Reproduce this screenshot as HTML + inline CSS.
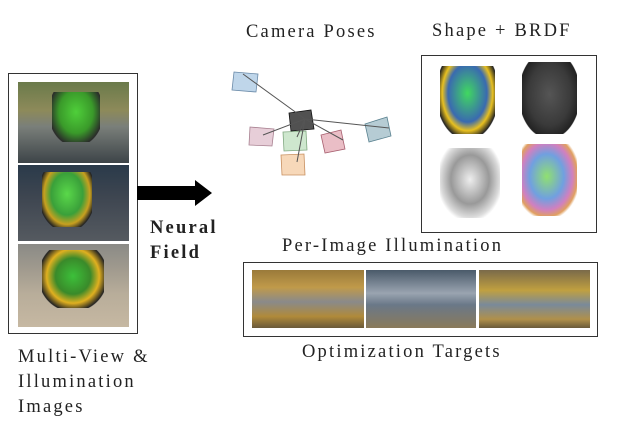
<!DOCTYPE html>
<html><head><style>
body{margin:0;width:618px;height:427px;background:#fff;position:relative;overflow:hidden;font-family:"Liberation Serif",serif;}
.t{position:absolute;font-size:18.5px;letter-spacing:2.2px;color:#222;white-space:nowrap;}
.box{position:absolute;border:1.5px solid #333;box-sizing:border-box;}
.ph{position:absolute;}
</style></head><body>
<div class="box" style="left:8px;top:73px;width:130px;height:261px"></div>
<div class="ph" style="left:18px;top:82px;width:111px;height:81px;background:linear-gradient(180deg,#6a7a4a 0%,#8d8a5a 35%,#7a7f7a 55%,#3d4448 100%)"></div>
<div class="ph" style="left:52px;top:92px;width:48px;height:50px;background:radial-gradient(ellipse at 50% 40%,#4fcf3a 0%,#3a9a2a 50%,#2a2a2a 80%,transparent 82%)"></div>
<div class="ph" style="left:18px;top:165px;width:111px;height:76px;background:linear-gradient(180deg,#2a3a4a 0%,#3d4550 40%,#555a60 100%)"></div>
<div class="ph" style="left:42px;top:172px;width:50px;height:55px;background:radial-gradient(ellipse at 50% 40%,#5ad84a 0%,#3aa03a 45%,#c8a020 65%,#222 80%,transparent 82%)"></div>
<div class="ph" style="left:18px;top:244px;width:111px;height:83px;background:linear-gradient(180deg,#8a8a86 0%,#a09a8e 30%,#b8ad9a 60%,#c6b8a2 100%)"></div>
<div class="ph" style="left:42px;top:250px;width:62px;height:58px;background:radial-gradient(ellipse at 50% 45%,#3cc03a 0%,#3a8a2a 40%,#e0b020 60%,#222 78%,transparent 80%)"></div>

<svg style="position:absolute;left:0;top:0" width="618" height="427">
<polygon points="137,186 195,186 195,180 212,193 195,206 195,200 137,200" fill="#000"/>
<g stroke-width="0.8" fill-opacity="0.55">
<polygon points="234,72 258,74 256,92 232,90" fill="#8ab4d8" stroke="#6a8aa8"/>
<polygon points="250,127 274,129 272,146 249,145" fill="#d4a6b8" stroke="#a88090"/>
<polygon points="283,132 306,131 307,150 284,151" fill="#a6d4a6" stroke="#80a880"/>
<polygon points="281,155 304,154 305,175 282,175" fill="#f0b880" stroke="#c89060"/>
<polygon points="321,135 341,130 345,149 325,153" fill="#d88898" stroke="#a86070"/>
<polygon points="365,124 387,117 391,136 369,142" fill="#7aa2b0" stroke="#5a8290"/>
<polygon points="289,113 311,110 314,129 291,131" fill="#333" stroke="#111" fill-opacity="0.85"/>
</g>
<g stroke="#555" stroke-width="1" fill="none">
<line x1="305" y1="119" x2="243" y2="74"/>
<line x1="305" y1="119" x2="263" y2="135"/>
<line x1="305" y1="119" x2="297" y2="137"/>
<line x1="305" y1="119" x2="297" y2="162"/>
<line x1="305" y1="119" x2="343" y2="140"/>
<line x1="305" y1="119" x2="389" y2="128"/>
</g>
</svg>

<div class="box" style="left:421px;top:55px;width:176px;height:178px"></div>
<div class="ph" style="left:440px;top:66px;width:55px;height:68px;background:radial-gradient(ellipse at 50% 40%,#40d860 0%,#3a6ab0 50%,#e8c020 65%,#222 80%,transparent 82%)"></div>
<div class="ph" style="left:522px;top:62px;width:55px;height:72px;background:radial-gradient(ellipse at 50% 45%,#555 0%,#3a3a3a 55%,#222 78%,transparent 80%)"></div>
<div class="ph" style="left:440px;top:148px;width:60px;height:70px;background:radial-gradient(ellipse at 50% 45%,#eee 0%,#999 45%,#ddd 70%,transparent 78%)"></div>
<div class="ph" style="left:522px;top:144px;width:55px;height:72px;background:radial-gradient(ellipse at 45% 45%,#90e070 0%,#70a0e0 40%,#d080c0 60%,#e0a060 72%,transparent 78%)"></div>

<div class="box" style="left:243px;top:262px;width:355px;height:75px"></div>
<div class="ph" style="left:252px;top:270px;width:112px;height:58px;background:linear-gradient(180deg,#9a7a3a 0%,#c09a4a 30%,#8a8a8a 55%,#b08a3a 80%,#6a5a3a 100%)"></div>
<div class="ph" style="left:366px;top:270px;width:110px;height:58px;background:linear-gradient(180deg,#4a5a6a 0%,#9aa4b0 40%,#6a7888 60%,#8a7a5a 100%)"></div>
<div class="ph" style="left:479px;top:270px;width:111px;height:58px;background:linear-gradient(180deg,#7a6a4a 0%,#c0a040 35%,#7a8a9a 60%,#b0904a 85%,#6a5a3a 100%)"></div>

<div class="t" style="left:246px;top:22px">Camera Poses</div>
<div class="t" style="left:432px;top:21px">Shape + BRDF</div>
<div class="t" style="left:150px;top:216px;font-weight:bold;line-height:25px">Neural<br>Field</div>
<div class="t" style="left:282px;top:236px">Per-Image Illumination</div>
<div class="t" style="left:302px;top:342px">Optimization Targets</div>
<div class="t" style="left:18px;top:345px;line-height:25px">Multi-View &amp;<br>Illumination<br>Images</div>
</body></html>
